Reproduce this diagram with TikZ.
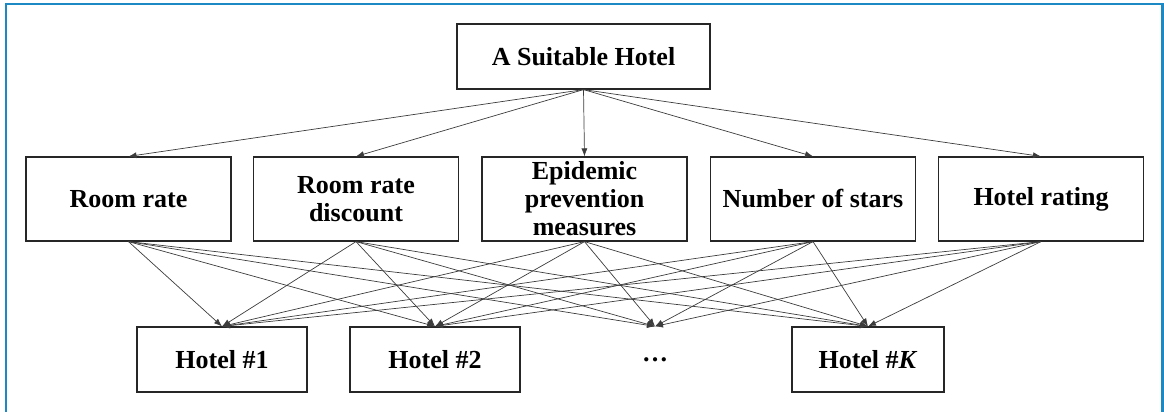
\documentclass[tikz,border=0pt]{standalone}
\usepackage{fontspec}
\setmainfont{Liberation Serif}
\usepackage{tikz}
\usetikzlibrary{arrows.meta, positioning}
\usepackage{xcolor}
\definecolor{frameblue}{RGB}{28,136,196}
\definecolor{linkgrey}{RGB}{60,60,60}
\tikzset{
    goalbox/.style={draw=black!85, line width=1.2pt, minimum width=253pt, minimum height=65pt, font=\bfseries\fontsize{26}{28}\selectfont},
    critbox/.style={draw=black!85, line width=1.2pt, minimum width=205pt, minimum height=84pt, inner sep=0pt, align=center, font=\bfseries\fontsize{26}{28}\selectfont},
    altbox/.style={draw=black!85, line width=1.2pt, minimum width=170pt, minimum height=65pt, font=\bfseries\fontsize{26}{28}\selectfont},
    gapbox/.style={altbox, draw=none},
    linkarrow/.style={-{Latex[length=8pt,width=6pt]}, line width=0.7pt, draw=linkgrey}
}
\begin{document}
\begin{tikzpicture}[x=1pt,y=-1pt]
    \useasboundingbox (0,0) rectangle (1164,412);
    % Frame (open at the bottom)
    \draw[frameblue, line width=2.2pt] (6,416) -- (6,4) -- (1162.5,4) -- (1162.5,416);

    % Goal
    \node[goalbox] (goal) at (583.5,56.5) {A Suitable Hotel};

    % Criteria
    \node[critbox] (rate)      at (128.5,199) {Room rate};
    \node[critbox] (discount)  at (356,199)   {Room rate\\discount};
    \node[critbox] (epidemic)  at (584.5,199) {Epidemic\\prevention\\measures};
    \node[critbox] (stars)     at (813,199)   {Number of stars};
    \node[critbox] (rating)    at (1041,199)  {Hotel rating};

    % Alternatives
    \node[altbox] (hotel1) at (222,359.5) {Hotel \#1};
    \node[altbox] (hotel2) at (435,359.5) {Hotel \#2};
    \node[gapbox] (hgap)   at (655,359.5) {…};
    \node[altbox, minimum width=152pt] (hotelK) at (868,359.5) {Hotel \#\textit{K}};

    % Goal to criteria, criteria to alternatives
    \foreach \c in {rate,discount,epidemic,stars,rating} {
        \draw[linkarrow] (goal.south) -- (\c.north);
        \foreach \h in {hotel1,hotel2,hgap,hotelK}
            \draw[linkarrow] (\c.south) -- (\h.north);
    }
\end{tikzpicture}
\end{document}
